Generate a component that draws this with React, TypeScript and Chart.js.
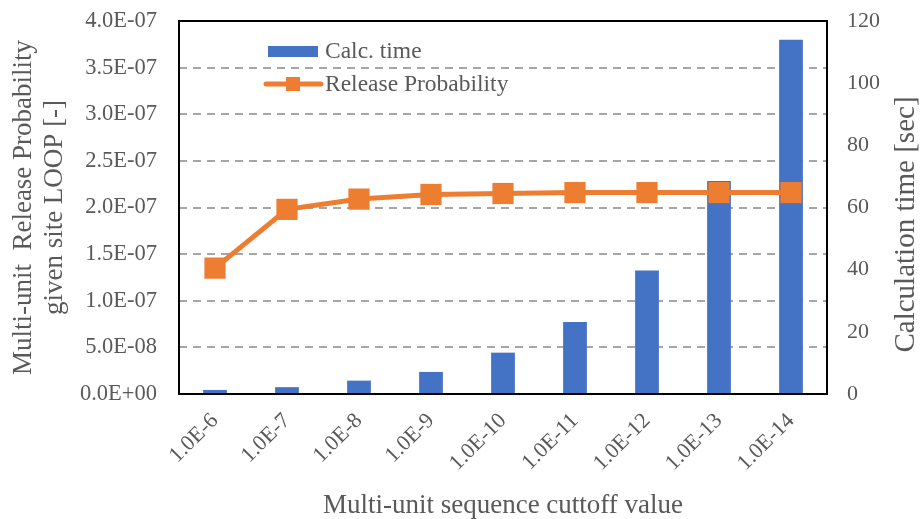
import React, { useEffect, useRef } from 'react';
import { Chart, registerables } from 'chart.js';

Chart.register(...registerables);

const categories = ['1.0E-6', '1.0E-7', '1.0E-8', '1.0E-9', '1.0E-10', '1.0E-11', '1.0E-12', '1.0E-13', '1.0E-14'];
const calcTime = [1.3, 2.2, 4.3, 7.1, 13.3, 23.2, 39.7, 68.5, 114];
const releaseProb = [1.35e-7, 1.98e-7, 2.09e-7, 2.14e-7, 2.15e-7, 2.16e-7, 2.16e-7, 2.16e-7, 2.16e-7];
const probMin = 0;
const probMax = 4e-7;
const probStep = 5e-8;
const timeMin = 0;
const timeMax = 120;
const timeStep = 20;
const barLabel = 'Calc. time';
const lineLabel = 'Release Probability';
const xTitle = 'Multi-unit sequence cuttoff value';
const leftTitle = ['Multi-unit  Release Probability', 'given site LOOP [-]'];
const rightTitle = 'Calculation time [sec]';

const BLUE = '#4472C4';
const ORANGE = '#ED7D31';
const TEXT = '#595959';
const FONT = '"Liberation Serif", "Times New Roman", serif';

function sci(v: number): string {
  if (Math.abs(v) < 1e-20) return '0.0E+00';
  const [m, e] = v.toExponential(1).split('e');
  const n = parseInt(e, 10);
  return m + 'E' + (n < 0 ? '-' : '+') + String(Math.abs(n)).padStart(2, '0');
}

function noPad(scale: any) {
  scale.paddingTop = 0;
  scale.paddingBottom = 0;
  scale.paddingLeft = 0;
  scale.paddingRight = 0;
}

const decorPlugin = {
  id: 'decor',
  afterDatasetsDraw(chart: any) {
    const { ctx, chartArea } = chart;
    const { left, right, top, bottom } = chartArea;
    ctx.save();
    // plot border
    ctx.strokeStyle = '#000000';
    ctx.lineWidth = 2;
    ctx.strokeRect(left, top, right - left, bottom - top);

    // legend
    const lx = left + 89;
    ctx.fillStyle = BLUE;
    ctx.fillRect(lx, top + 25, 50, 11);
    ctx.strokeStyle = ORANGE;
    ctx.lineWidth = 5;
    ctx.lineCap = 'round';
    ctx.beginPath();
    ctx.moveTo(lx - 2, top + 63);
    ctx.lineTo(lx + 53, top + 63);
    ctx.stroke();
    ctx.fillStyle = ORANGE;
    ctx.fillRect(lx + 18, top + 56, 14, 14);
    ctx.fillStyle = TEXT;
    ctx.font = `23.5px ${FONT}`;
    ctx.textAlign = 'left';
    ctx.textBaseline = 'middle';
    ctx.fillText(barLabel, lx + 57, top + 31);
    ctx.fillText(lineLabel, lx + 57, top + 64);

    // right axis title (reads bottom-to-top)
    ctx.translate(906, (top + bottom) / 2 + 17);
    ctx.rotate(-Math.PI / 2);
    ctx.font = `29px ${FONT}`;
    ctx.textAlign = 'center';
    ctx.fillText(rightTitle, 0, 0);
    ctx.restore();
  },
};

export default function App() {
  const ref = useRef<HTMLCanvasElement | null>(null);

  useEffect(() => {
    if (!ref.current) return;
    const chart = new Chart(ref.current, {
      type: 'bar',
      data: {
        labels: categories,
        datasets: [
          {
            type: 'line',
            label: lineLabel,
            data: releaseProb,
            yAxisID: 'y',
            borderColor: ORANGE,
            backgroundColor: ORANGE,
            borderWidth: 5,
            pointStyle: 'rect',
            pointRadius: 15,
            pointBackgroundColor: ORANGE,
            pointBorderWidth: 0,
            order: 0,
          } as any,
          {
            type: 'bar',
            label: barLabel,
            data: calcTime,
            yAxisID: 'y1',
            backgroundColor: BLUE,
            categoryPercentage: 1,
            barPercentage: 0.33,
            order: 1,
          },
        ],
      },
      options: {
        responsive: false,
        animation: false,
        layout: { padding: { top: 21, left: 0, right: 0, bottom: 0 } },
        plugins: { legend: { display: false }, tooltip: { enabled: false } },
        scales: {
          x: {
            grid: { display: false, drawTicks: false },
            border: { display: false },
            ticks: {
              color: TEXT,
              font: { family: FONT, size: 22 },
              minRotation: 45,
              maxRotation: 45,
              padding: 14,
            },
            title: {
              display: true,
              text: xTitle,
              color: TEXT,
              font: { family: FONT, size: 27, lineHeight: 1 },
              padding: { top: 0, bottom: 0 },
            },
            afterFit(scale: any) {
              noPad(scale);
              scale.height = 125;
            },
          },
          y: {
            position: 'left',
            min: probMin,
            max: probMax,
            grid: { color: '#A6A6A6', lineWidth: 2, drawTicks: false },
            border: { display: false, dash: [8, 6] },
            ticks: {
              stepSize: probStep,
              color: TEXT,
              font: { family: FONT, size: 22.5 },
              padding: 22,
              callback: (v: any) => sci(Number(v)),
            },
            title: {
              display: true,
              text: leftTitle,
              color: TEXT,
              font: { family: FONT, size: 27, lineHeight: 1.15 },
              padding: { top: 8, bottom: 0 },
            },
            afterFit(scale: any) {
              noPad(scale);
              scale.width = 179;
            },
          },
          y1: {
            position: 'right',
            min: timeMin,
            max: timeMax,
            grid: { display: false, drawTicks: false },
            border: { display: false },
            ticks: {
              stepSize: timeStep,
              color: TEXT,
              font: { family: FONT, size: 22 },
              padding: 20,
            },
            afterFit(scale: any) {
              noPad(scale);
              scale.width = 93;
            },
          },
        },
      },
      plugins: [decorPlugin],
    });
    return () => chart.destroy();
  }, []);

  return (
    <div style={{ position: 'absolute', left: 0, top: 0, width: 920, height: 519, background: '#fff' }}>
      <canvas ref={ref} width={920} height={519} style={{ display: 'block' }} />
    </div>
  );
}
